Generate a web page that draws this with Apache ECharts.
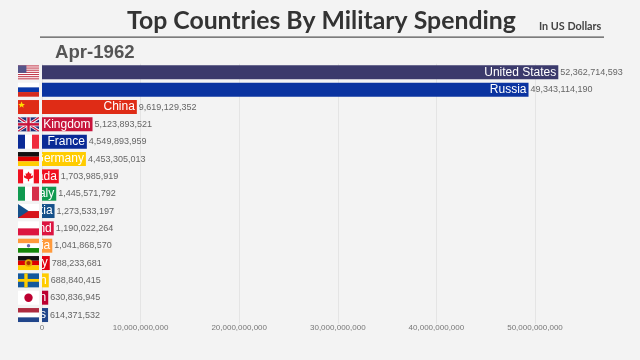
<!DOCTYPE html>
<html>
<head>
    <meta charset="utf-8">
    <title>Top Countries By Military Spending</title>
    <script src="https://cdn.jsdelivr.net/npm/echarts@6/dist/echarts.min.js"></script>
    <style>
        html, body { margin: 0; padding: 0; background: #f3f3f3; }
    </style>
</head>
<body>
<div id="main" style="width: 640px;height:360px;"></div>
<script type="text/javascript">
    var categories = ['United States', 'Russia', 'China', 'United Kingdom', 'France', 'Germany', 'Canada', 'Italy',
        'Czechoslovakia', 'Poland', 'India', 'East Germany', 'Sweden', 'Japan', 'Netherlands'];
    var spending = [52362714593, 49343114190, 9619129352, 5123893521, 4549893959, 4453305013, 1703985919, 1445571792,
        1273533197, 1190022264, 1041868570, 788233681, 688840415, 630836945, 614371532];
    var barColors = ['#3b3a6c', '#0a33a0', '#df2c16', '#c8143c', '#0a2a96', '#ffcc00', '#f01020', '#109a50',
        '#15508a', '#dc1440', '#ff9a3c', '#e00010', '#ffcc00', '#bc0030', '#21468b'];
    var dateLabel = 'Apr-1962';

    // flag drawings in 0-1 units of the flag box
    function r(x, y, w, h, c) { return { t: 'r', x: x, y: y, w: w, h: h, c: c }; }
    function p(pts, c) { return { t: 'p', pts: pts, c: c }; }
    function o(x, y, rad, c) { return { t: 'c', x: x, y: y, r: rad, c: c }; }

    var usStripes = [r(0, 0, 1, 1, '#fff')];
    for (var s = 0; s < 7; s++) {
        usStripes.push(r(0, s * 2 / 13, 1, 1 / 13, '#c23a4c'));
    }
    usStripes.push(r(0, 0, 0.4, 7 / 13, '#55558a'));

    var flags = [
        usStripes,
        [r(0, 0, 1, 1 / 3, '#fff'), r(0, 1 / 3, 1, 1 / 3, '#0a38a8'), r(0, 2 / 3, 1, 1 / 3, '#d52b1e')],
        [r(0, 0, 1, 1, '#df2c16'), p([[0.17, 0.1], [0.22, 0.28], [0.33, 0.28], [0.24, 0.4], [0.27, 0.55], [0.17, 0.45], [0.07, 0.55], [0.1, 0.4], [0.01, 0.28], [0.12, 0.28]], '#ffde00')],
        [r(0, 0, 1, 1, '#21307a'),
            p([[0, 0], [0.1, 0], [1, 0.85], [1, 1], [0.9, 1], [0, 0.15]], '#fff'),
            p([[1, 0], [0.9, 0], [0, 0.85], [0, 1], [0.1, 1], [1, 0.15]], '#fff'),
            p([[0, 0], [0.05, 0], [1, 0.93], [1, 1], [0.95, 1], [0, 0.07]], '#c8143c'),
            p([[1, 0], [0.95, 0], [0, 0.93], [0, 1], [0.05, 1], [1, 0.07]], '#c8143c'),
            r(0.4, 0, 0.2, 1, '#fff'), r(0, 0.36, 1, 0.28, '#fff'),
            r(0.44, 0, 0.12, 1, '#c8143c'), r(0, 0.41, 1, 0.18, '#c8143c')],
        [r(0, 0, 1 / 3, 1, '#0a2a96'), r(1 / 3, 0, 1 / 3, 1, '#fff'), r(2 / 3, 0, 1 / 3, 1, '#ef2b3d')],
        [r(0, 0, 1, 1 / 3, '#111'), r(0, 1 / 3, 1, 1 / 3, '#dd0000'), r(0, 2 / 3, 1, 1 / 3, '#ffce00')],
        [r(0, 0, 0.25, 1, '#f01020'), r(0.25, 0, 0.5, 1, '#fff'), r(0.75, 0, 0.25, 1, '#f01020'),
            p([[0.5, 0.15], [0.57, 0.32], [0.64, 0.28], [0.62, 0.5], [0.72, 0.42], [0.7, 0.6], [0.53, 0.7], [0.53, 0.85], [0.47, 0.85], [0.47, 0.7], [0.3, 0.6], [0.28, 0.42], [0.38, 0.5], [0.36, 0.28], [0.43, 0.32]], '#f01020')],
        [r(0, 0, 1 / 3, 1, '#109a50'), r(1 / 3, 0, 1 / 3, 1, '#fff'), r(2 / 3, 0, 1 / 3, 1, '#d6304a')],
        [r(0, 0, 1, 0.5, '#fff'), r(0, 0.5, 1, 0.5, '#d7141a'), p([[0, 0], [0.5, 0.5], [0, 1]], '#15508a')],
        [r(0, 0, 1, 0.5, '#fff'), r(0, 0.5, 1, 0.5, '#dc1440')],
        [r(0, 0, 1, 1 / 3, '#ff9a3c'), r(0, 1 / 3, 1, 1 / 3, '#fff'), r(0, 2 / 3, 1, 1 / 3, '#138808'), o(0.5, 0.5, 0.12, '#6a6ab0')],
        [r(0, 0, 1, 1 / 3, '#111'), r(0, 1 / 3, 1, 1 / 3, '#dd0000'), r(0, 2 / 3, 1, 1 / 3, '#ffce00'), o(0.5, 0.5, 0.27, '#e8a800'), o(0.5, 0.5, 0.15, '#a83000')],
        [r(0, 0, 1, 1, '#14589c'), r(0.3, 0, 0.16, 1, '#ffcc00'), r(0, 0.4, 1, 0.2, '#ffcc00')],
        [r(0, 0, 1, 1, '#fff'), o(0.5, 0.5, 0.3, '#bc0030')],
        [r(0, 0, 1, 1 / 3, '#ae2b3f'), r(0, 1 / 3, 1, 1 / 3, '#fff'), r(0, 2 / 3, 1, 1 / 3, '#21468b')]
    ];

    var bg = '#f3f3f3';
    var flagW = 21, flagH = 14, flagGap = 3;

    function renderFlag(params, api) {
        var pos = api.coord([0, api.value(1)]);
        var x = pos[0] - flagGap - flagW;
        var y = pos[1] - flagH / 2;
        // the background strip also hides the part of a long name that runs past the axis
        var children = [{
            type: 'rect',
            shape: { x: 0, y: pos[1] - 8.7, width: pos[0], height: 17.4 },
            style: { fill: bg }
        }];
        flags[api.value(1)].forEach(function (f) {
            if (f.t === 'r') {
                children.push({ type: 'rect', shape: { x: x + f.x * flagW, y: y + f.y * flagH, width: f.w * flagW, height: f.h * flagH }, style: { fill: f.c } });
            } else if (f.t === 'p') {
                children.push({ type: 'polygon', shape: { points: f.pts.map(function (q) { return [x + q[0] * flagW, y + q[1] * flagH]; }) }, style: { fill: f.c } });
            } else {
                children.push({ type: 'circle', shape: { cx: x + f.x * flagW, cy: y + f.y * flagH, r: f.r * flagH }, style: { fill: f.c } });
            }
        });
        return { type: 'group', children: children };
    }

    var myChart = echarts.init(document.getElementById('main'));

    var option = {
        animation: false,
        backgroundColor: bg,
        title: [
            { text: 'Top Countries By Military Spending', left: 122, top: 4, textStyle: { fontFamily: 'Lato', fontWeight: 'bold', fontSize: 24.8, color: '#333' } },
            { text: 'In US Dollars', left: 534, top: 16, textStyle: { fontFamily: 'Lato', fontWeight: 'bold', fontSize: 10.8, color: '#444' } },
            { text: dateLabel, left: 50, top: 38, textStyle: { fontFamily: 'Liberation Sans', fontWeight: 'bold', fontSize: 18.6, color: '#555' } }
        ],
        graphic: [{
            type: 'rect',
            shape: { x: 40, y: 36.5, width: 564, height: 1.2 },
            style: { fill: '#555' }
        }],
        grid: { left: 42, top: 63.7, width: 542.3, height: 260 },
        xAxis: {
            type: 'value',
            min: 0,
            max: 55000000000,
            interval: 10000000000,
            axisLine: { show: false },
            axisTick: { show: false },
            axisLabel: {
                showMaxLabel: false,
                margin: 0,
                fontFamily: 'Liberation Sans',
                fontSize: 8,
                color: '#777',
                formatter: function (v) { return v.toLocaleString('en-US'); }
            },
            splitLine: { showMaxLine: false, lineStyle: { color: '#e4e4e4', width: 1 } }
        },
        yAxis: {
            type: 'category',
            inverse: true,
            data: categories,
            axisLine: { show: false },
            axisTick: { show: false },
            axisLabel: { show: false }
        },
        series: [
            {
                type: 'bar',
                barWidth: 14,
                barGap: '-100%',
                data: spending.map(function (v, i) {
                    return { value: v, itemStyle: { color: barColors[i] } };
                }),
                label: {
                    show: true,
                    position: 'insideRight',
                    distance: 2,
                    fontFamily: 'Liberation Sans',
                    fontSize: 12,
                    color: '#fff',
                    formatter: function (d) { return d.name; }
                }
            },
            {
                type: 'bar',
                barWidth: 14,
                barGap: '-100%',
                data: spending,
                itemStyle: { color: 'transparent' },
                label: {
                    show: true,
                    position: 'right',
                    distance: 2,
                    fontFamily: 'Liberation Sans',
                    fontSize: 9,
                    color: '#666',
                    formatter: function (d) { return d.value.toLocaleString('en-US'); }
                }
            },
            {
                type: 'custom',
                z: 10,
                silent: true,
                renderItem: renderFlag,
                encode: { x: 0, y: 1 },
                data: categories.map(function (c, i) { return [0, i]; })
            }
        ]
    };

    myChart.setOption(option);
</script>
</body>
</html>
